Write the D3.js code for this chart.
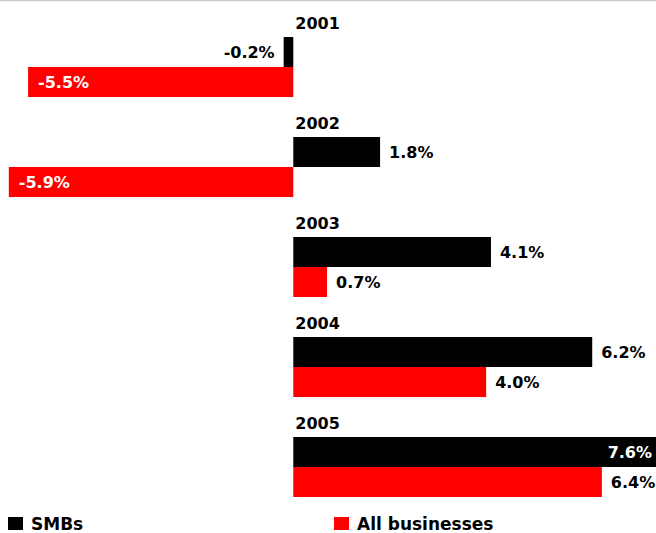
<!DOCTYPE html>
<html>
<head>
<meta charset="utf-8">
<script src="https://cdn.jsdelivr.net/npm/d3@7"></script>
<style>
  body { margin: 0; background: #fff; }
  text { font-family: "DejaVu Sans", sans-serif; font-weight: bold; }
</style>
</head>
<body>
<div id="chart"></div>
<script>
// growth by year, percent
const years = ["2001", "2002", "2003", "2004", "2005"];
const smbs = [-0.2, 1.8, 4.1, 6.2, 7.6];
const allBusinesses = [-5.5, -5.9, 0.7, 4.0, 6.4];
const seriesNames = ["SMBs", "All businesses"];
const seriesColors = ["#000000", "#ff0000"];

const width = 656, height = 533;
const barH = 30;

const svg = d3.select("#chart")
    .append("svg")
    .attr("width", width)
    .attr("height", height);

// thin rule across the top
svg.append("line")
    .attr("x1", 0).attr("x2", width)
    .attr("y1", 0.5).attr("y2", 0.5)
    .attr("stroke", "#c8c8c8")
    .attr("stroke-width", 1.5);

const x = d3.scaleLinear()
    .domain([-6, 8])
    .range([4, 679]);

// 100px per year, bars take 60 of it
const y = d3.scaleBand()
    .domain(years)
    .range([37, 537])
    .paddingInner(0.4)
    .paddingOuter(0.2)
    .align(0);

const fmt = d3.formatLocale({ decimal: ".", thousands: ",", grouping: [3], currency: ["$", ""], minus: "-" })
    .format(".1f");

const rows = [];
years.forEach((yr, i) => {
    rows.push({ year: yr, s: 0, v: smbs[i] });
    rows.push({ year: yr, s: 1, v: allBusinesses[i] });
});

const g = svg.append("g");

// year labels
g.selectAll(".year")
    .data(years)
    .enter()
    .append("text")
    .attr("class", "year")
    .attr("x", x(0) + 2)
    .attr("y", d => y(d) - 8)
    .attr("font-size", 16)
    .attr("fill", "#000")
    .text(d => d);

g.selectAll(".bar")
    .data(rows)
    .enter()
    .append("rect")
    .attr("class", "bar")
    .attr("x", d => x(Math.min(0, d.v)))
    .attr("y", d => y(d.year) + d.s * barH)
    .attr("width", d => Math.abs(x(d.v) - x(0)))
    .attr("height", barH)
    .attr("fill", d => seriesColors[d.s]);

function labelPos(d) {
    const end = x(d.v);
    if (d.v < -1) return { x: end + 10, anchor: "start", fill: "#fff" };
    if (d.v < 0) return { x: end - 9, anchor: "end", fill: "#000" };
    if (end + 50 > width) return { x: Math.min(end, width) - 4, anchor: "end", fill: "#fff" };
    return { x: end + 9, anchor: "start", fill: "#000" };
}

g.selectAll(".val")
    .data(rows)
    .enter()
    .append("text")
    .attr("class", "val")
    .attr("x", d => labelPos(d).x)
    .attr("y", d => y(d.year) + d.s * barH + barH / 2 + 6)
    .attr("text-anchor", d => labelPos(d).anchor)
    .attr("fill", d => labelPos(d).fill)
    .attr("font-size", 16)
    .text(d => fmt(d.v) + "%");

// legend
const legend = svg.selectAll(".legend")
    .data(seriesNames)
    .enter()
    .append("g")
    .attr("class", "legend")
    .attr("transform", (d, i) => `translate(${i === 0 ? 8 : 334},517)`);

legend.append("rect")
    .attr("width", 15)
    .attr("height", 13)
    .attr("fill", (d, i) => seriesColors[i]);

legend.append("text")
    .attr("x", 23)
    .attr("y", 13)
    .attr("font-size", 17)
    .attr("fill", "#000")
    .text(d => d);
</script>
</body>
</html>
